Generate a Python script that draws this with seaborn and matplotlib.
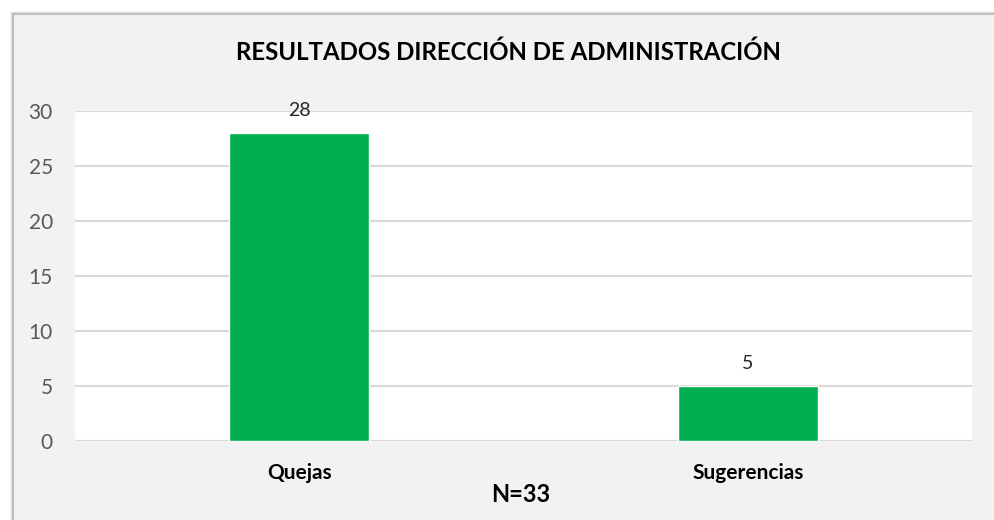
import matplotlib
matplotlib.use("Agg")
import matplotlib.pyplot as plt
import seaborn as sns
import pandas as pd
from matplotlib.patches import Rectangle

categories = ["Quejas", "Sugerencias"]
values = [28, 5]
title = "RESULTADOS DIRECCIÓN DE ADMINISTRACIÓN"
footer = "N=33"
yticks = [0, 5, 10, 15, 20, 25, 30]

sns.set_theme(style="white")
plt.rcParams['font.family'] = ['Lato', 'DejaVu Sans']

W, H = 995, 520
fig = plt.figure(figsize=(W / 100, H / 100), dpi=100, facecolor="white")

# chart-area background with shadow
for i, c in enumerate(["#e0e0e0", "#c8c8c8", "#b0b0b0"]):
    fig.patches.append(Rectangle(((11 + i) / W, 0), 1 / W, 1 - (12 + i) / H,
                                 transform=fig.transFigure, color=c, zorder=-5))
    fig.patches.append(Rectangle(((11 + i) / W, 1 - (13 + i) / H), 1, 1 / H,
                                 transform=fig.transFigure, color=c, zorder=-5))
fig.patches.append(Rectangle((14 / W, 0), 1, 1 - 15 / H,
                             transform=fig.transFigure, color="#f2f2f2", zorder=-4))

ax = fig.add_axes([75 / W, 1 - 441 / H, (972 - 75) / W, (441 - 111) / H])
ax.set_zorder(2)
ax.set_facecolor("white")

df = pd.DataFrame({"cat": categories, "val": values})
sns.barplot(data=df, x="cat", y="val", color="#00b050", width=0.3125,
            saturation=1, ax=ax, zorder=3)

ax.set_xlim(-0.5, 1.5)
ax.set_ylim(0, 30)
ax.set_yticks(yticks)
ax.yaxis.grid(True, color="#d9d9d9", linewidth=1.5, zorder=0)
ax.set_axisbelow(True)
for s in ax.spines.values():
    s.set_visible(False)
ax.set_xlabel("")
ax.set_ylabel("")
ax.tick_params(axis="y", length=0, pad=16, labelsize=15, labelcolor="#595959")
ax.tick_params(axis="x", length=0, pad=16, labelsize=15, labelcolor="black")
for lbl in ax.get_xticklabels():
    lbl.set_fontweight("bold")

for cont in ax.containers:
    ax.bar_label(cont, labels=[str(v) for v in values], padding=10,
                 fontsize=14, color="#262626")

fig.text(508 / W, 1 - 52 / H, title, ha="center", va="center",
         fontsize=17.3, fontweight="bold", color="black")
fig.text(521 / W, 1 - 495 / H, footer, ha="center", va="center",
         fontsize=17, fontweight="bold", color="black")

fig.savefig("out.png", dpi=100, facecolor=fig.get_facecolor())
